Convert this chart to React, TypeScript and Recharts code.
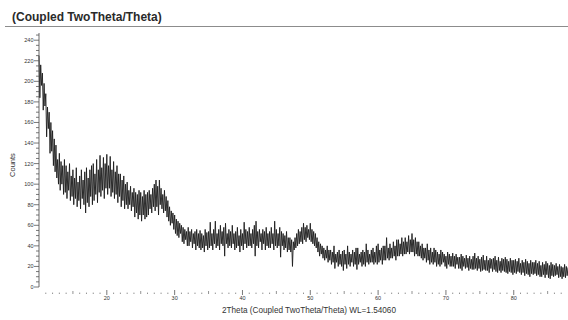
import React from "react";
import { LineChart, Line, XAxis, YAxis } from "recharts";

// 2Theta scan, 10° .. 88°, one reading every 0.125°
const SCAN_START = 10;
const SCAN_STEP = 0.125;

// counts, one row per degree (10° .. 87°, then 88°)
const counts = [
  225, 184, 216, 196, 208, 172, 198, 176,
  188, 146, 175, 154, 170, 130, 160, 132,
  152, 118, 144, 112, 138, 106, 124, 100,
  130, 94, 122, 100, 118, 90, 124, 92,
  118, 86, 112, 94, 120, 84, 108, 88,
  114, 80, 106, 86, 116, 78, 102, 84,
  108, 76, 114, 86, 104, 80, 112, 72,
  116, 82, 106, 78, 114, 88, 118, 80,
  120, 84, 110, 90, 124, 82, 114, 92,
  128, 88, 116, 94, 126, 86, 120, 96,
  129, 90, 118, 96, 127, 88, 114, 92,
  122, 86, 112, 90, 118, 82, 110, 88,
  110, 78, 104, 84, 108, 76, 100, 80,
  102, 76, 94, 80, 98, 74, 92, 78,
  96, 68, 92, 72, 90, 66, 94, 70,
  92, 64, 88, 70, 94, 66, 90, 68,
  92, 70, 94, 76, 90, 72, 96, 78,
  100, 74, 104, 78, 98, 70, 104, 80,
  96, 76, 90, 72, 94, 74, 88, 68,
  84, 64, 78, 60, 74, 62, 72, 56,
  70, 52, 66, 50, 64, 48, 62, 52,
  60, 44, 58, 42, 56, 46, 54, 40,
  58, 40, 54, 44, 56, 38, 52, 42,
  54, 36, 56, 40, 52, 38, 55, 36,
  52, 38, 50, 34, 56, 40, 53, 36,
  54, 38, 63, 40, 52, 36, 56, 42,
  64, 38, 52, 40, 56, 36, 60, 42,
  54, 40, 58, 30, 62, 42, 52, 38,
  56, 40, 54, 38, 60, 42, 52, 36,
  54, 38, 58, 40, 50, 34, 56, 40,
  52, 36, 63, 42, 56, 38, 54, 40,
  58, 40, 52, 38, 56, 42, 60, 30,
  64, 40, 54, 38, 56, 44, 52, 36,
  56, 42, 54, 36, 58, 40, 52, 38,
  54, 38, 58, 42, 52, 36, 64, 40,
  56, 38, 52, 40, 58, 29, 54, 40,
  52, 36, 50, 38, 54, 34, 48, 36,
  48, 34, 46, 20, 44, 36, 48, 38,
  52, 40, 56, 42, 54, 44, 58, 42,
  62, 46, 58, 44, 60, 48, 56, 46,
  62, 44, 56, 42, 54, 40, 52, 38,
  48, 34, 44, 30, 42, 32, 40, 28,
  38, 26, 36, 28, 40, 24, 36, 26,
  36, 22, 34, 24, 40, 18, 32, 24,
  34, 20, 36, 22, 32, 20, 35, 16,
  36, 22, 32, 18, 40, 22, 34, 20,
  32, 24, 36, 20, 34, 22, 38, 17,
  38, 22, 32, 24, 34, 20, 36, 22,
  34, 20, 42, 24, 36, 22, 32, 24,
  36, 24, 38, 22, 34, 24, 40, 22,
  42, 24, 36, 26, 38, 22, 40, 26,
  40, 26, 48, 28, 38, 26, 42, 28,
  38, 28, 44, 30, 40, 26, 46, 30,
  46, 30, 42, 32, 48, 30, 44, 32,
  48, 32, 44, 34, 50, 32, 46, 34,
  52, 34, 46, 30, 48, 32, 44, 30,
  44, 30, 40, 28, 42, 26, 38, 28,
  38, 24, 42, 26, 36, 22, 38, 24,
  34, 22, 38, 24, 36, 20, 34, 22,
  32, 20, 36, 22, 34, 24, 32, 20,
  30, 18, 34, 22, 32, 20, 30, 20,
  33, 20, 30, 18, 32, 22, 29, 18,
  29, 18, 32, 16, 30, 20, 28, 18,
  31, 19, 28, 16, 30, 18, 27, 17,
  30, 17, 33, 18, 28, 16, 30, 18,
  27, 15, 29, 16, 31, 17, 26, 16,
  30, 16, 26, 14, 28, 18, 27, 15,
  28, 17, 30, 15, 26, 14, 29, 16,
  25, 14, 28, 16, 27, 15, 29, 14,
  27, 13, 25, 15, 28, 14, 26, 12,
  26, 14, 27, 13, 25, 15, 28, 14,
  23, 12, 26, 14, 24, 11, 27, 13,
  25, 12, 23, 10, 26, 13, 24, 12,
  24, 13, 26, 11, 23, 12, 25, 10,
  21, 10, 24, 12, 22, 9, 25, 12,
  23, 9, 21, 8, 24, 11, 22, 10,
  21, 11, 23, 12, 20, 9, 22, 10,
  20, 8, 19, 10, 22, 9, 20, 11,
  19,
];

const countTicks = [
  0, 5, 10, 15, 20, 25, 30, 35, 40, 45, 50, 55, 60, 65, 70, 75, 80, 85, 90, 95,
  100, 105, 110, 115, 120, 125, 130, 135, 140, 145, 150, 155, 160, 165, 170, 175,
  180, 185, 190, 195, 200, 205, 210, 215, 220, 225, 230, 235, 240, 245,
];

const angleTicks = [
  11, 12, 13, 14, 15, 16, 17, 18, 19, 20, 21, 22, 23, 24, 25, 26, 27, 28, 29, 30,
  31, 32, 33, 34, 35, 36, 37, 38, 39, 40, 41, 42, 43, 44, 45, 46, 47, 48, 49, 50,
  51, 52, 53, 54, 55, 56, 57, 58, 59, 60, 61, 62, 63, 64, 65, 66, 67, 68, 69, 70,
  71, 72, 73, 74, 75, 76, 77, 78, 79, 80, 81, 82, 83, 84, 85, 86, 87,
];

const data = counts.map((c, i) => ({ angle: SCAN_START + i * SCAN_STEP, counts: c }));

const FONT = "'Liberation Sans', Arial, sans-serif";

function CountTick(props: any) {
  const { x, y, payload } = props;
  const v = payload.value;
  const major = v % 20 === 0;
  return (
    <g>
      <line x1={x - (major ? 5 : 3)} x2={x} y1={y} y2={y} stroke="#555" strokeWidth={0.8} />
      {major && (
        <text x={x - 5.5} y={y} dy={2} textAnchor="end" fontSize={5.5} fill="#333" fontFamily={FONT}>
          {v}
        </text>
      )}
    </g>
  );
}

function AngleTick(props: any) {
  const { x, y, payload } = props;
  const v = payload.value;
  if (v % 10 === 0) {
    return (
      <g>
        <line x1={x} x2={x} y1={y + 3} y2={y + 8} stroke="#555" strokeWidth={0.8} />
        <text x={x} y={y + 13} textAnchor="middle" fontSize={5.5} fill="#333" fontFamily={FONT}>
          {v}
        </text>
      </g>
    );
  }
  const len = v % 5 === 0 ? 3 : 1.4;
  return <line x1={x} x2={x} y1={y + 7 - len} y2={y + 7} stroke="#777" strokeWidth={0.8} />;
}

export default function App() {
  return (
    <div
      style={{
        position: "absolute",
        left: 0,
        top: 0,
        width: 568,
        height: 320,
        overflow: "hidden",
        background: "#fff",
        fontFamily: FONT,
      }}
    >
      <div
        style={{
          position: "absolute",
          left: 12,
          top: 10,
          fontSize: 12,
          lineHeight: "14px",
          fontWeight: "bold",
          color: "#2a2a2a",
          whiteSpace: "nowrap",
        }}
      >
        (Coupled TwoTheta/Theta)
      </div>
      <div style={{ position: "absolute", left: 5, right: 0, top: 26, height: 1, background: "#8c8c8c" }} />

      <LineChart width={568} height={320} data={data} margin={{ top: 33, right: 0, bottom: 3, left: 9 }}>
        <XAxis
          dataKey="angle"
          type="number"
          domain={[10, 88]}
          ticks={angleTicks}
          interval={0}
          axisLine={false}
          tickLine={false}
          tickSize={0}
          tickMargin={0}
          height={30}
          tick={<AngleTick />}
        />
        <YAxis
          type="number"
          domain={[0, 247]}
          ticks={countTicks}
          interval={0}
          width={30}
          axisLine={{ stroke: "#444", strokeWidth: 0.8 }}
          tickLine={false}
          tickSize={0}
          tickMargin={0}
          tick={<CountTick />}
        />
        <Line
          type="linear"
          dataKey="counts"
          stroke="#1c1c1c"
          strokeWidth={0.9}
          dot={false}
          isAnimationActive={false}
        />
      </LineChart>

      <div
        style={{
          position: "absolute",
          left: -7,
          top: 160,
          width: 40,
          height: 10,
          lineHeight: "10px",
          fontSize: 7.5,
          color: "#333",
          textAlign: "center",
          transform: "rotate(-90deg)",
        }}
      >
        Counts
      </div>
      <div
        style={{
          position: "absolute",
          left: 222,
          top: 306,
          fontSize: 8.2,
          lineHeight: "10px",
          color: "#333",
          whiteSpace: "nowrap",
        }}
      >
        2Theta (Coupled TwoTheta/Theta) WL=1.54060
      </div>
    </div>
  );
}
